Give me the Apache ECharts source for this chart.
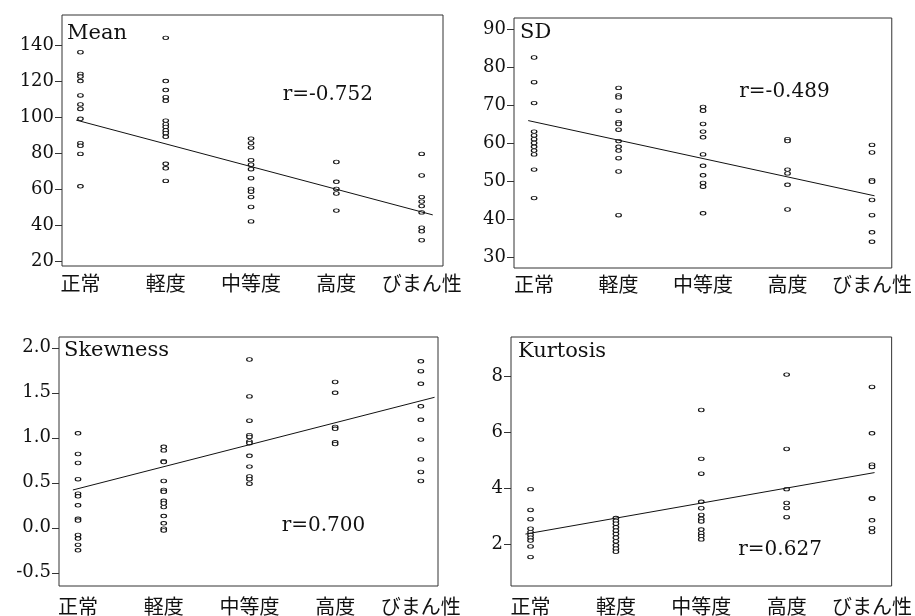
<!DOCTYPE html>
<html><head><meta charset="utf-8">
<script src="https://cdn.jsdelivr.net/npm/echarts@6/dist/echarts.min.js"></script>
<style>html,body{margin:0;padding:0;background:#fff}#c{width:915px;height:616px}</style>
</head><body><div id="c"></div>
<script>
const categories = ['正常','軽度','中等度','高度','びまん性'];

// Mean (per group)
const meanGroups = [
  [136, 124, 122.5, 120, 112, 107, 104.5, 99, 85.5, 84, 79.5, 61.5],
  [144, 120, 115, 111, 109, 98, 96, 94.5, 92.5, 91, 89, 74, 71.5, 64.5],
  [88, 85.5, 83, 76, 73.5, 71, 66, 60, 58.5, 55.5, 50, 42],
  [75, 64, 60, 57.5, 48],
  [79.5, 67.5, 55.5, 53, 50.5, 47, 38.5, 36.5, 31.5]
];
const meanFit = [[0.95, 98.3], [5.13, 45.6]];
const meanTicks = [20, 40, 60, 80, 100, 120, 140];

// SD
const sdGroups = [
  [82.5, 76, 70.5, 63, 62, 61, 60, 59, 58, 57, 53, 45.5],
  [74.5, 72.5, 72, 68.5, 65.5, 65, 63.5, 60.5, 59, 58, 56, 52.5, 41],
  [69.5, 68.5, 65, 63, 61.5, 57, 54, 51.5, 49.5, 48.5, 41.5],
  [61, 60.5, 53, 52, 49, 42.5],
  [59.5, 57.5, 50.2, 49.8, 45, 41, 36.5, 34]
];
const sdFit = [[0.93, 65.9], [5.03, 46.1]];
const sdTicks = [30, 40, 50, 60, 70, 80, 90];

// Skewness
const skewGroups = [
  [1.05, 0.82, 0.72, 0.54, 0.38, 0.35, 0.25, 0.10, 0.08, -0.08, -0.12, -0.19, -0.25],
  [0.90, 0.86, 0.74, 0.73, 0.52, 0.42, 0.40, 0.30, 0.27, 0.23, 0.13, 0.05, -0.01, -0.03],
  [1.87, 1.46, 1.19, 1.03, 1.01, 0.96, 0.94, 0.80, 0.68, 0.57, 0.54, 0.49],
  [1.62, 1.50, 1.12, 1.10, 0.95, 0.93],
  [1.85, 1.74, 1.60, 1.35, 1.20, 0.98, 0.76, 0.62, 0.52]
];
const skewFit = [[0.94, 0.42], [5.16, 1.45]];
const skewTicks = [-0.5, 0.0, 0.5, 1.0, 1.5, 2.0];

// Kurtosis
const kurtGroups = [
  [3.98, 3.24, 2.91, 2.57, 2.45, 2.35, 2.25, 2.15, 1.94, 1.56],
  [2.95, 2.85, 2.75, 2.62, 2.5, 2.38, 2.25, 2.12, 1.98, 1.86, 1.75],
  [6.8, 5.06, 4.53, 3.53, 3.3, 3.06, 2.92, 2.83, 2.54, 2.41, 2.31, 2.19],
  [8.06, 5.41, 3.98, 3.49, 3.31, 2.98],
  [7.62, 5.97, 4.85, 4.77, 3.66, 3.64, 2.87, 2.59, 2.45]
];
const kurtFit = [[0.94, 2.38], [5.03, 4.57]];
const kurtTicks = [2, 4, 6, 8];

const titles = ['Mean', 'SD', 'Skewness', 'Kurtosis'];
const rLabels = ['r=-0.752', 'r=-0.489', 'r=0.700', 'r=0.627'];

const panels = [
  {groups: meanGroups, fit: meanFit, ticks: meanTicks, fmt: v => String(v),
   grid: {left: 62, top: 15, width: 381, height: 251}, x: [0.784, 5.25], y: [17.2, 156.7], labMargin: 7,
   title: [67, 33.7], r: [282.7, 95]},
  {groups: sdGroups, fit: sdFit, ticks: sdTicks, fmt: v => String(v),
   grid: {left: 514, top: 18, width: 381, height: 250}, x: [0.762, 5.234], y: [27.1, 92.9], labMargin: 6,
   title: [520, 32.8], r: [739.3, 92]},
  {groups: skewGroups, fit: skewFit, ticks: skewTicks, fmt: v => v.toFixed(1),
   grid: {left: 59, top: 337, width: 379, height: 250}, x: [0.778, 5.2], y: [-0.647, 2.12], labMargin: 10,
   title: [64, 351], r: [281.7, 525.5]},
  {groups: kurtGroups, fit: kurtFit, ticks: kurtTicks, fmt: v => String(v),
   grid: {left: 511, top: 337, width: 382, height: 251}, x: [0.771, 5.23], y: [0.53, 9.40], labMargin: 10,
   title: [518, 351.3], r: [738.3, 550]}
];

const serif = 'DejaVu Serif';
const grids = [], xAxes = [], yAxes = [], series = [], graphics = [];
panels.forEach((p, i) => {
  grids.push(Object.assign({show: true, borderColor: '#333', borderWidth: 1, backgroundColor: 'transparent'}, p.grid));
  xAxes.push({
    type: 'value', gridIndex: i, min: p.x[0], max: p.x[1],
    axisLine: {show: false}, axisTick: {show: false}, splitLine: {show: false},
    axisLabel: {customValues: [1, 2, 3, 4, 5], formatter: v => categories[Math.round(v) - 1] || '',
      fontFamily: 'Noto Sans CJK JP', fontSize: 20, color: '#111', margin: p.labMargin}
  });
  yAxes.push({
    type: 'value', gridIndex: i, min: p.y[0], max: p.y[1],
    axisLine: {show: false}, splitLine: {show: false},
    axisTick: {show: true, length: 7, customValues: p.ticks, lineStyle: {color: '#333'}},
    axisLabel: {customValues: p.ticks, formatter: v => p.fmt(v), fontFamily: serif, fontSize: 18, color: '#111', margin: 8}
  });
  const pts = [];
  p.groups.forEach((g, gi) => g.forEach(v => pts.push([gi + 1, v])));
  series.push({
    type: 'scatter', xAxisIndex: i, yAxisIndex: i, data: pts, symbol: 'circle', symbolSize: [5.5, 3.6],
    itemStyle: {color: '#fff', borderColor: '#111', borderWidth: 1, opacity: 1}, silent: true
  });
  series.push({
    type: 'line', xAxisIndex: i, yAxisIndex: i, data: p.fit, showSymbol: false, symbol: 'none',
    lineStyle: {color: '#111', width: 1}, silent: true, z: 3
  });
  graphics.push({type: 'text', x: p.title[0], y: p.title[1],
    style: {text: titles[i], font: '21px "DejaVu Serif"', fill: '#111', verticalAlign: 'middle', align: 'left'}});
  graphics.push({type: 'text', x: p.r[0], y: p.r[1],
    style: {text: rLabels[i], font: '20px "DejaVu Serif"', fill: '#111', verticalAlign: 'middle', align: 'left'}});
});

const chart = echarts.init(document.getElementById('c'), null, {renderer: 'canvas'});
chart.setOption({
  animation: false,
  backgroundColor: '#fff',
  grid: grids, xAxis: xAxes, yAxis: yAxes, series: series, graphic: graphics
});
</script>
</body></html>
